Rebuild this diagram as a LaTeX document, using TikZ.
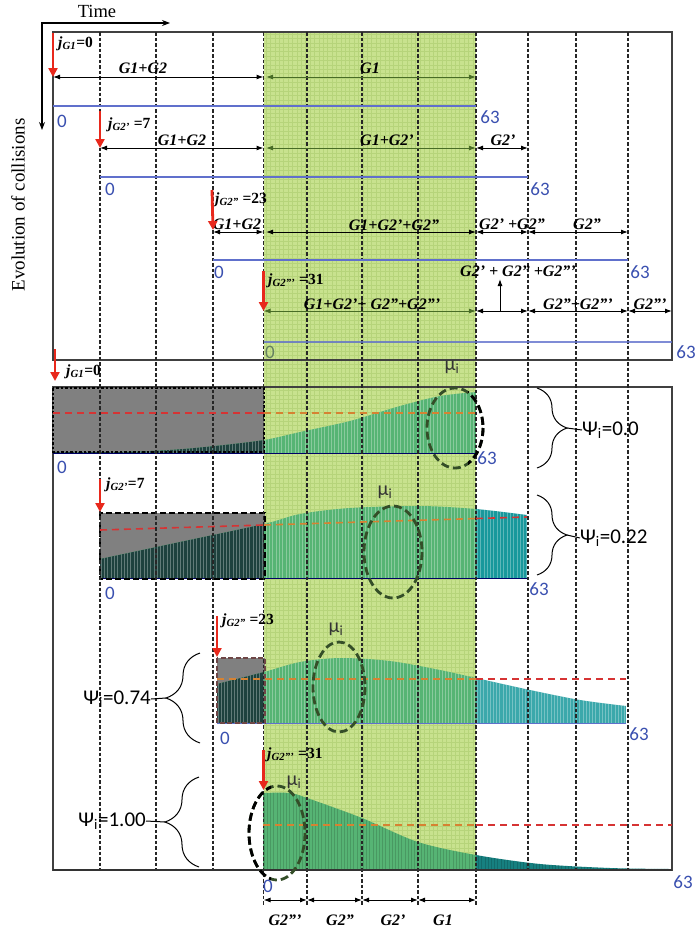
\documentclass[tikz,border=0pt]{standalone}
\usepackage{fontspec}
\setmainfont{Liberation Serif}
\newfontfamily\cfont{Carlito}
\usetikzlibrary{arrows.meta,decorations.pathreplacing}
\definecolor{bggreen}{RGB}{200,226,142}
\definecolor{gridgreen}{RGB}{182,212,122}
\definecolor{bargreen}{RGB}{86,180,116}
\definecolor{barteal}{RGB}{24,152,156}
\definecolor{barteald}{RGB}{22,128,128}
\definecolor{darkteal}{RGB}{30,66,62}
\definecolor{graybox}{RGB}{128,128,128}
\definecolor{olivearrow}{RGB}{72,108,38}
\definecolor{lineblue}{RGB}{96,112,204}
\definecolor{numblue}{RGB}{58,80,176}
\definecolor{numgreen}{RGB}{100,128,96}
\definecolor{elgreen}{RGB}{52,78,40}
\definecolor{dashred}{RGB}{214,52,52}
\definecolor{dashorange}{RGB}{214,130,50}
\definecolor{arrowred}{RGB}{232,40,28}
\definecolor{boxbrown}{RGB}{110,70,70}
\newcommand\jl[2]{\textbf{\textit{j}\textsubscript{\textit{#1}}#2}}
\tikzset{
  vline/.style={line width=1.1pt, dash pattern=on 3.5pt off 2pt, black!85},
  dimarr/.style={line width=1pt, {Latex[length=7pt,width=5pt]}-{Latex[length=7pt,width=5pt]}},
  redarr/.style={arrowred, line width=2.8pt, -{Triangle[length=9pt,width=9pt]}},
  bline/.style={lineblue, line width=1.1pt},
  glab/.style={font=\fontsize{16}{16}\selectfont\bfseries\itshape, inner sep=0pt},
  jlab/.style={font=\fontsize{15.5}{15.5}\selectfont, anchor=west, inner sep=0pt},
  num/.style={font=\cfont\fontsize{19}{19}\selectfont, text=numblue, inner sep=0pt},
  psi/.style={font=\cfont\fontsize{21}{21}\selectfont, inner sep=0pt},
  mu/.style={font=\cfont\fontsize{20}{20}\selectfont, text=black!80, inner sep=0pt},
  ell/.style={elgreen, line width=2.8pt, dash pattern=on 8pt off 4pt},
  brc/.style={decorate, decoration={brace, amplitude=30pt}, line width=1pt},
  brcl/.style={decorate, decoration={brace, amplitude=34pt}, line width=1pt},
  reddash/.style={dashred, line width=1.6pt, dash pattern=on 7pt off 5pt},
  ordash/.style={dashorange, line width=1.6pt, dash pattern=on 7pt off 5pt},
  frame/.style={black!75, line width=1.2pt},
  gridl/.style={gridgreen, line width=0.35pt},
  stripe/.style={white, opacity=0.3, line width=0.5pt},
  stripek/.style={black, opacity=0.15, line width=0.5pt},
}
\def\chA{(53,453) -- plot[smooth] coordinates {(53,452) (120,452) (170,450) (215,446) (264,440) (300,432) (350,421) (400,406) (440,396) (476,392)} -- (476,453) -- cycle}
\def\chB{(100,579) -- plot[smooth] coordinates {(100,559) (180,542) (264,524) (300,514) (350,508) (420,506) (476,509) (527,515)} -- (527,579) -- cycle}
\def\chC{(217,723) -- plot[smooth] coordinates {(217,684) (264,672) (300,662) (340,658) (390,661) (440,670) (476,678) (530,690) (580,700) (626,706)} -- (626,723) -- cycle}
\def\chD{(263,870) -- plot[smooth] coordinates {(263,793) (290,793) (310,799) (362,818) (418,842) (476,855) (540,864) (610,868) (670,869)} -- (670,870) -- cycle}
\begin{document}
\begin{tikzpicture}[x=1pt,y=-1pt]
\useasboundingbox (0,0) rectangle (698,932);
\fill[white] (0,0) rectangle (698,932);
% columns and rows
\coordinate (c0) at (53,0);
\coordinate (c1) at (100,0);
\coordinate (c2) at (156,0);
\coordinate (c3) at (213,0);
\coordinate (c4) at (263.5,0);
\coordinate (c4g) at (266,0);
\coordinate (c5) at (307,0);
\coordinate (c6) at (362,0);
\coordinate (c7) at (418,0);
\coordinate (c8) at (476,0);
\coordinate (c9) at (528,0);
\coordinate (c10) at (576,0);
\coordinate (c11) at (628,0);
\coordinate (c12) at (672,0);
\coordinate (r1) at (0,77);
\coordinate (r2) at (0,148);
\coordinate (r3) at (0,232);
\coordinate (r4) at (0,311);
\coordinate (rb) at (0,900);
\coordinate (b1) at (0,106);
\coordinate (b2) at (0,177);
\coordinate (b3) at (0,260);
\coordinate (b4) at (0,342);
\coordinate (ytop) at (0,32);
\coordinate (ybot) at (0,870);
\coordinate (ylow) at (0,905);

% green band
\fill[bggreen] (264,32) rectangle (476,870);
\begin{scope}
  \clip (264,32) rectangle (476,870);
  \foreach \x in {266,270.4,...,476} \draw[gridl] (\x,32) -- (\x,870);
  \foreach \y in {34,38.4,...,870} \draw[gridl] (264,\y) -- (476,\y);
\end{scope}

% frames
\draw[frame] (53,32) rectangle (672,360);
\draw[frame] (53,387) rectangle (672,870);

% axes
\coordinate (ax0) at (42,23);
\coordinate (axd) at (42,130);
\coordinate (axr) at (170,23);
\draw[line width=1.1pt, {Stealth[length=8pt,width=6pt]}-{Stealth[length=8pt,width=6pt]}] (axd) -- (ax0) -- (axr);
\node[font=\fontsize{18.5}{18.5}\selectfont, inner sep=0pt] (time) at (97,11) {Time};
\node[rotate=90, font=\fontsize{19}{19}\selectfont, inner sep=0pt] (evo) at (18,205) {Evolution of collisions};

% ===== lower charts =====
% chart 1
\fill[graybox] (53,388) rectangle (264,452);
\begin{scope}
  \clip \chA;
  \fill[bargreen] (53,380) rectangle (476,453);
  \fill[darkteal] (53,380) rectangle (264,453);
  \foreach \x in {54,57.3,...,476} \draw[stripe] (\x,380) -- (\x,453);
\end{scope}
\draw[black!60!blue, line width=0.8pt] (53,453) -- (476,453);
\draw[black, line width=2.4pt, dash pattern=on 2.5pt off 2pt] (53,388) rectangle (264,452);

% chart 2
\fill[graybox] (100,513) rectangle (265,579);
\begin{scope}
  \clip \chB;
  \fill[bargreen] (100,500) rectangle (476,579);
  \fill[barteal] (476,500) rectangle (527,579);
  \fill[darkteal] (100,500) rectangle (264,579);
  \foreach \x in {101,104.3,...,527} \draw[stripe] (\x,500) -- (\x,579);
\end{scope}
\draw[black!60!blue, line width=0.8pt] (100,578) -- (527,578);
\draw[black, line width=2.4pt, dash pattern=on 6pt off 3pt] (100,513) rectangle (265,579);

% chart 3
\fill[graybox] (217,658) rectangle (265,723);
\begin{scope}
  \clip \chC;
  \fill[bargreen] (217,650) rectangle (476,723);
  \fill[barteal!85!white] (476,650) rectangle (626,723);
  \fill[darkteal] (217,650) rectangle (264,723);
  \foreach \x in {218,221.2,...,626} \draw[stripe] (\x,650) -- (\x,723);
\end{scope}
\draw[lineblue, line width=0.8pt] (217,723) -- (626,723);
\draw[boxbrown, line width=2.4pt, dash pattern=on 5pt off 2.5pt] (217,658) rectangle (265,723);

% chart 4
\begin{scope}
  \clip \chD;
  \fill[bargreen] (263,785) rectangle (476,870);
  \fill[barteald] (476,785) rectangle (670,870);
  \foreach \x in {264,267.2,...,670} \draw[stripek] (\x,785) -- (\x,870);
\end{scope}

% vertical dashed lines
\foreach \c in {c1,c2,c3,c9,c10,c11} \draw[vline] (\c|-ytop) -- (\c|-ybot);
\foreach \c in {c4,c5,c6,c7,c8} \draw[vline] (\c|-ytop) -- (\c|-ylow);
\draw[black!80, line width=1.6pt] (53,870) -- (672,870);

% ===== top rows =====
% row 1
\coordinate (ra1s) at (53,33);
\draw[dimarr] (c0|-r1) -- (c4|-r1);
\draw[dimarr, olivearrow] (c4g|-r1) -- (c8|-r1);
\draw[bline] (c0|-b1) -- (c8|-b1);
\node[jlab] (j1) at (58,44) {\jl{G1}{=0}};
\node[glab] (l11) at (143,68) {G1+G2};
\node[glab] (l12) at (370,68) {G1};
\node[num] (n10) at (62,121) {0};
\node[num] (n163) at (490,117) {63};
% row 2
\coordinate (ra2s) at (100,111);
\draw[dimarr] (c1|-r2) -- (c4|-r2);
\draw[dimarr, olivearrow] (c4g|-r2) -- (c8|-r2);
\draw[dimarr] (c8|-r2) -- (c9|-r2);
\draw[bline] (c1|-b2) -- (c9|-b2);
\node[jlab] (j2) at (108,125) {\jl{G2'}{\ =7}};
\node[glab] (l21) at (182,140) {G1+G2};
\node[glab] (l22) at (387,140) {G1+G2'};
\node[glab] (l23) at (503,140) {G2'};
\node[num] (n20) at (110,189) {0};
\node[num] (n263) at (540,189) {63};
% row 3
\coordinate (ra3s) at (212,190);
\draw[dimarr] (c3|-r3) -- (c4|-r3);
\draw[dimarr] (c4g|-r3) -- (c8|-r3);
\draw[dimarr] (c8|-r3) -- (c9|-r3);
\draw[dimarr] (c9|-r3) -- (c11|-r3);
\draw[bline] (c3|-b3) -- (c11|-b3);
\node[jlab] (j3) at (215,200) {\jl{G2''}{\ =23}};
\node[glab] (l31) at (237,224) {G1+G2};
\node[glab] (l32) at (394,225) {G1+G2'+G2''};
\node[glab] (l33) at (512,224) {G2' +G2''};
\node[glab] (l34) at (587,224) {G2''};
\node[num] (n30) at (219,272) {0};
\node[num] (n363) at (640,272) {63};
% row 4
\coordinate (ra4s) at (263.5,271);
\coordinate (ua0) at (500,311);
\coordinate (ua1) at (500,279);
\draw[dimarr, olivearrow] (c4|-r4) -- (c8|-r4);
\draw[dimarr] (c8|-r4) -- (c9|-r4);
\draw[dimarr] (c9|-r4) -- (c11|-r4);
\draw[dimarr] (c11|-r4) -- (c12|-r4);
\draw[line width=1pt, -{Latex[length=7pt,width=5pt]}] (ua0) -- (ua1);
\draw[bline, opacity=0.8] (c4|-b4) -- (c12|-b4);
\node[jlab] (j4) at (268,281) {\jl{G2'''}{\ =31}};
\node[glab] (l41) at (372,304) {G1+G2'+ G2''+G2'''};
\node[glab] (l42) at (518,271) {G2' + G2'' +G2'''};
\node[glab] (l43) at (578,304) {G2''+G2'''};
\node[glab] (l44) at (650,304) {G2'''};
\node[num, text=numgreen] (n40) at (270,352) {0};
\node[num] (n463) at (686,352) {63};

% ===== lower chart overlays =====
\draw[reddash] (53,413) -- (264,413);
\draw[ordash] (264,413) -- (476,413);
\draw[reddash] (100,530) -- (264,525);
\draw[ordash] (264,525) -- (476,518.5);
\draw[reddash] (476,518.5) -- (527,517);
\draw[ordash] (217,679) -- (476,679);
\draw[reddash] (476,679) -- (626,679);
\draw[ordash] (263,825) -- (476,825);
\draw[reddash] (476,825) -- (672,825);

% ellipses
\draw[ell] (455,428) ellipse [x radius=28, y radius=40];
\begin{scope}
  \clip (468,380) rectangle (500,480);
  \draw[ell, black] (455,428) ellipse [x radius=28, y radius=40];
\end{scope}
\draw[ell] (393,552) ellipse [x radius=29, y radius=46];
\draw[ell] (339,687) ellipse [x radius=26, y radius=45];
\draw[ell] (277,833) ellipse [x radius=28, y radius=47];
\begin{scope}
  \clip (240,780) rectangle (271,890);
  \draw[ell, black] (277,833) ellipse [x radius=28, y radius=47];
\end{scope}

\node[mu] (mu1) at (452,367) {μ\textsubscript{i}};
\node[mu] (mu2) at (385,492) {μ\textsubscript{i}};
\node[mu] (mu3) at (336,629) {μ\textsubscript{i}};
\node[mu] (mu4) at (294,782) {μ\textsubscript{i}};

% braces and psi labels
\coordinate (br1a) at (537,388);
\coordinate (br1b) at (537,468);
\coordinate (br1t) at (567,428);
\draw[brc] (br1a) -- (br1b);
\node[psi, anchor=west] (psi1) at (582,430) {Ψ\textsubscript{i}=0.0};
\draw[line width=1pt] (br1t) -- (psi1.west);

\coordinate (br2a) at (537,495);
\coordinate (br2b) at (537,575);
\coordinate (br2t) at (567,535);
\draw[brc] (br2a) -- (br2b);
\node[psi, anchor=west] (psi2) at (580,538) {Ψ\textsubscript{i}=0.22};
\draw[line width=1pt] (br2t) -- (psi2.west);

\coordinate (br3a) at (200,743);
\coordinate (br3b) at (200,653);
\coordinate (br3t) at (166,698);
\draw[brcl] (br3a) -- (br3b);
\node[psi, anchor=east] (psi3) at (151,699) {Ψ\textsubscript{i}=0.74};
\draw[line width=1pt] (br3t) -- (psi3.east);

\coordinate (br4a) at (199,867);
\coordinate (br4b) at (199,777);
\coordinate (br4t) at (165,822);
\draw[brcl] (br4a) -- (br4b);
\node[psi, anchor=east] (psi4) at (146,821) {Ψ\textsubscript{i}=1.00};
\draw[line width=1pt] (br4t) -- (psi4.east);

% lower labels
\node[jlab] (k1) at (66,372) {\jl{G1}{=0}};
\node[jlab] (k2) at (106,485) {\jl{G2'}{=7}};
\node[jlab] (k3) at (222,621) {\jl{G2''}{\ =23}};
\node[jlab] (k4) at (267,755) {\jl{G2'''}{\ =31}};
\node[num] (m10) at (62,467) {0};
\node[num] (m163) at (487,458) {63};
\node[num] (m20) at (110,593) {0};
\node[num] (m263) at (539,589) {63};
\node[num] (m30) at (225,738) {0};
\node[num] (m363) at (639,734) {63};
\node[num] (m40) at (268,886) {0};
\node[num] (m463) at (683,882) {63};

% bottom group arrows
\draw[dimarr] (c4|-rb) -- (c5|-rb);
\draw[dimarr] (c5|-rb) -- (c6|-rb);
\draw[dimarr] (c6|-rb) -- (c7|-rb);
\draw[dimarr] (c7|-rb) -- (c8|-rb);
\node[glab] (g1) at (285,920) {G2'''};
\node[glab] (g2) at (340,920) {G2''};
\node[glab] (g3) at (393,920) {G2'};
\node[glab] (g4) at (443,920) {G1};

% red arrows
\coordinate (rl1s) at (55,349);
\coordinate (rl1e) at (55,381);
\coordinate (rl2s) at (100,479);
\coordinate (rl2e) at (100,512);
\coordinate (rl3s) at (217,616);
\coordinate (rl3e) at (217,657);
\coordinate (rl4s) at (263.5,750);
\coordinate (rl4e) at (263.5,790);
\draw[redarr] (ra1s) -- (c0|-r1);
\draw[redarr] (ra2s) -- (c1|-r2);
\draw[redarr] (ra3s) -- ([yshift=2pt]c3|-r3);
\draw[redarr] (ra4s) -- (c4|-r4);
\draw[redarr] (rl1s) -- (rl1e);
\draw[redarr] (rl2s) -- (rl2e);
\draw[redarr] (rl3s) -- (rl3e);
\draw[redarr] (rl4s) -- (rl4e);
\end{tikzpicture}
\end{document}
